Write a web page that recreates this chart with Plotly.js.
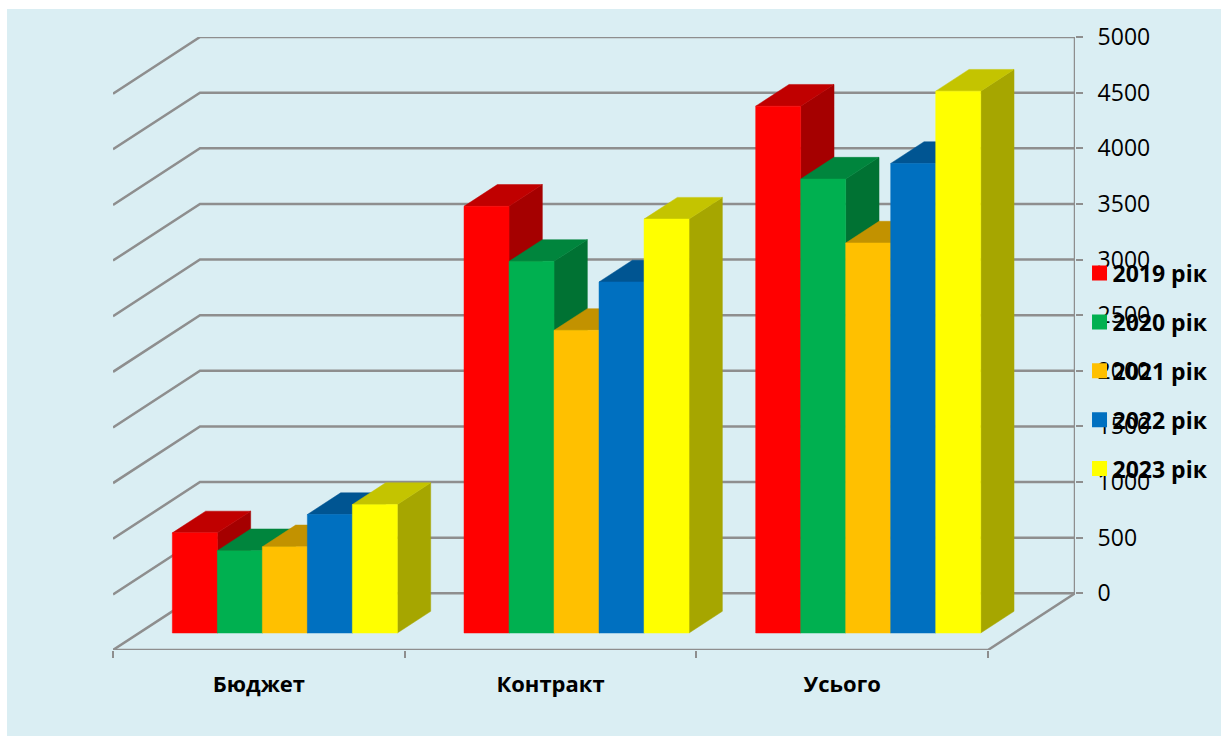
<!DOCTYPE html>
<html><head><meta charset="utf-8">
<script src="https://cdn.plot.ly/plotly-3.0.1.min.js"></script>
<style>html,body{margin:0;padding:0;background:#fff;width:1224px;height:736px;overflow:hidden}
#chart{position:absolute;left:7px;top:9px;width:1214px;height:727px}</style>
</head><body><div id="chart"></div>
<script>
const categories = ['Бюджет','Контракт','Усього'];
const seriesNames = ['2019 рік','2020 рік','2021 рік','2022 рік','2023 рік'];
const values2019 = [900, 3835, 4735];
const values2020 = [740, 3340, 4080];
const values2021 = [775, 2720, 3505];
const values2022 = [1065, 3155, 4220];
const values2023 = [1155, 3720, 4870];
const allValues = [values2019, values2020, values2021, values2022, values2023];
const frontColors = ['#FF0000','#00B050','#FFC000','#0070C0','#FFFF00'];
const topColors   = ['#C00000','#00853D','#C29200','#005592','#C4C400'];
const sideColors  = ['#A50000','#007233','#A67C00','#004A7E','#A6A600'];
const yTicks = [0,500,1000,1500,2000,2500,3000,3500,4000,4500,5000];

const grey = '#8E8E8E';
const DEPTH_X = 87/291.67, DEPTH_Y = 509.3;       // floor depth, in axis units
const D1 = 0.3, D2 = 0.683;                        // bar front / back depth
const START = 0.114, W = 0.1543;                   // bar offset and width
const px = (x,d) => x + d*DEPTH_X;
const py = (v,d) => v - (1-d)*DEPTH_Y;

const traces = [];
const lineTrace = (x,y) => ({type:'scatter',mode:'lines',x,y,line:{color:grey,width:2.5},
  showlegend:false,hoverinfo:'skip',cliponaxis:false});

// back wall, side wall and floor
yTicks.forEach(v => traces.push(lineTrace(
  [px(0,0),px(0,1),px(categories.length,1)],[py(v,0),py(v,1),py(v,1)])));
traces.push(lineTrace([px(categories.length,1),px(categories.length,1)],[py(0,1),py(5000,1)]));
traces.push(lineTrace([px(0,0),px(categories.length,0),px(categories.length,1)],[py(0,0),py(0,0),py(0,1)]));

function face(color,x,y){
  return {type:'scatter',mode:'lines',x,y,fill:'toself',fillcolor:color,
    line:{color:color,width:0.5},showlegend:false,hoverinfo:'skip',cliponaxis:false};
}
allValues.forEach((vals,s) => {
  const fx=[],fy=[],tx=[],ty=[],sx=[],sy=[];
  vals.forEach((v,c) => {
    const l=c+START+s*W, r=l+W;
    sx.push(px(r,D1),px(r,D2),px(r,D2),px(r,D1),px(r,D1),null);
    sy.push(py(0,D1),py(0,D2),py(v,D2),py(v,D1),py(0,D1),null);
    tx.push(px(l,D1),px(r,D1),px(r,D2),px(l,D2),px(l,D1),null);
    ty.push(py(v,D1),py(v,D1),py(v,D2),py(v,D2),py(v,D1),null);
    fx.push(px(l,D1),px(r,D1),px(r,D1),px(l,D1),px(l,D1),null);
    fy.push(py(0,D1),py(0,D1),py(v,D1),py(v,D1),py(0,D1),null);
  });
  traces.push(face(sideColors[s],sx,sy),face(topColors[s],tx,ty),face(frontColors[s],fx,fy));
});
// legend entries
seriesNames.forEach((n,s) => traces.push({type:'scatter',mode:'markers',name:n,x:[null],y:[null],
  legendgroup:n,marker:{symbol:'square',size:15,color:frontColors[s]},hoverinfo:'skip'}));

const layout = {
  width:1214,height:727,
  paper_bgcolor:'#DAEEF3',plot_bgcolor:'rgba(0,0,0,0)',
  margin:{l:106,r:146,t:27.7,b:86,pad:0,autoexpand:false},
  xaxis:{range:[0,962/291.67],showgrid:false,zeroline:false,showline:false,
    tickmode:'array',tickvals:categories.map((_,i)=>i+0.5),ticktext:categories,ticks:'',
    ticklabelstandoff:19,tickfont:{family:'Open Sans',size:22,color:'#000',weight:700},
    minor:{tickmode:'array',tickvals:[0,1,2,3],ticks:'outside',ticklen:7,tickwidth:2,tickcolor:grey,showgrid:false}},
  yaxis:{range:[-DEPTH_Y,5000],side:'right',showgrid:false,zeroline:false,showline:false,
    tickmode:'array',tickvals:yTicks,ticktext:yTicks.map(String),ticks:'outside',ticklen:7,tickwidth:2,tickcolor:grey,
    ticklabelstandoff:10,tickfont:{family:'Open Sans',size:23,color:'#000'}},
  legend:{x:1.0047,xanchor:'left',y:0.65,yanchor:'top',bgcolor:'rgba(0,0,0,0)',
    traceorder:'grouped',tracegroupgap:16,font:{family:'Open Sans',size:23,color:'#000',weight:700}},
  showlegend:true
};
Plotly.newPlot('chart',traces,layout,{displayModeBar:false,staticPlot:true}).then(gd=>{
  gd.querySelectorAll('.legendtext').forEach(t=>{
    t.setAttribute('x', parseFloat(t.getAttribute('x'))-7);
  });
});
</script></body></html>
